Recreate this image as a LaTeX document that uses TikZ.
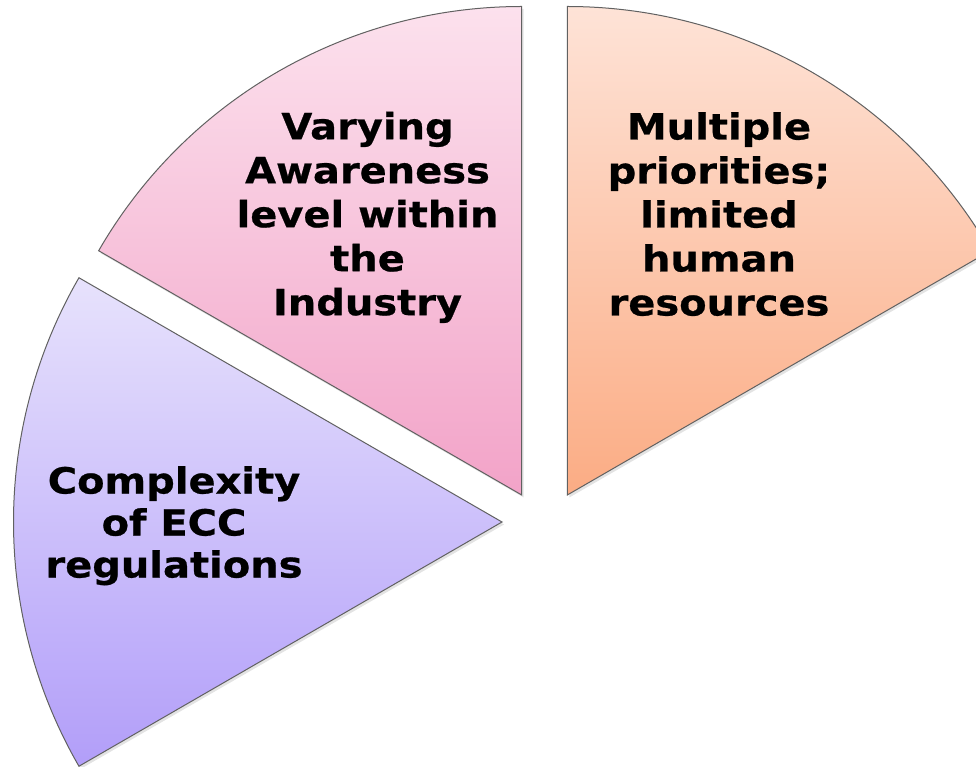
\documentclass[tikz,border=0pt]{standalone}
\usepackage{fontspec}
\setmainfont{DejaVu Sans}[FakeStretch=1.11, BoldFeatures={FakeBold=0.7}]
\usetikzlibrary{shadows}
\definecolor{orTop}{RGB}{254,227,215}
\definecolor{orBot}{RGB}{251,172,132}
\definecolor{pkTop}{RGB}{252,225,237}
\definecolor{pkBot}{RGB}{242,163,200}
\definecolor{puTop}{RGB}{231,226,252}
\definecolor{puBot}{RGB}{178,158,249}
\begin{document}
\begin{tikzpicture}[x=1pt,y=1pt,
  sector/.style={draw=black!62, line width=1pt,
    drop shadow={shadow xshift=2pt, shadow yshift=-2.5pt, opacity=0.22}},
  lbl/.style={font=\bfseries\fontsize{36}{44}\selectfont, align=center,
    inner sep=0pt, anchor=north, text=black}]
\useasboundingbox (0,0) rectangle (976,766);
\clip (0,0) rectangle (976,766);
\coordinate (Ar) at (567.3,271);
\coordinate (Am) at (521.7,271);
\coordinate (Al) at (502,244);
% right sector
\path[sector, top color=orTop, bottom color=orBot]
  (Ar) -- ++(30:488.5pt) arc[start angle=30, end angle=90, radius=488.5pt] -- cycle;
% middle sector
\path[sector, top color=pkTop, bottom color=pkBot]
  (Am) -- ++(90:488.5pt) arc[start angle=90, end angle=150, radius=488.5pt] -- cycle;
% left sector
\path[sector, top color=puTop, bottom color=puBot]
  (Al) -- ++(150:488.5pt) arc[start angle=150, end angle=210, radius=488.5pt] -- cycle;
\node[lbl] (tm) at (367.5,657) {\rule{0pt}{30pt}Varying\\Awareness\\level within\\the\\Industry};
\node[lbl] (tr) at (719,656.7) {\rule{0pt}{30pt}Multiple\\priorities;\\limited\\human\\resources};
\node[lbl, font=\bfseries\fontsize{36}{42}\selectfont] (tl) at (174,302.7) {\rule{0pt}{30pt}Complexity\\of ECC\\regulations};
\end{tikzpicture}
\end{document}
